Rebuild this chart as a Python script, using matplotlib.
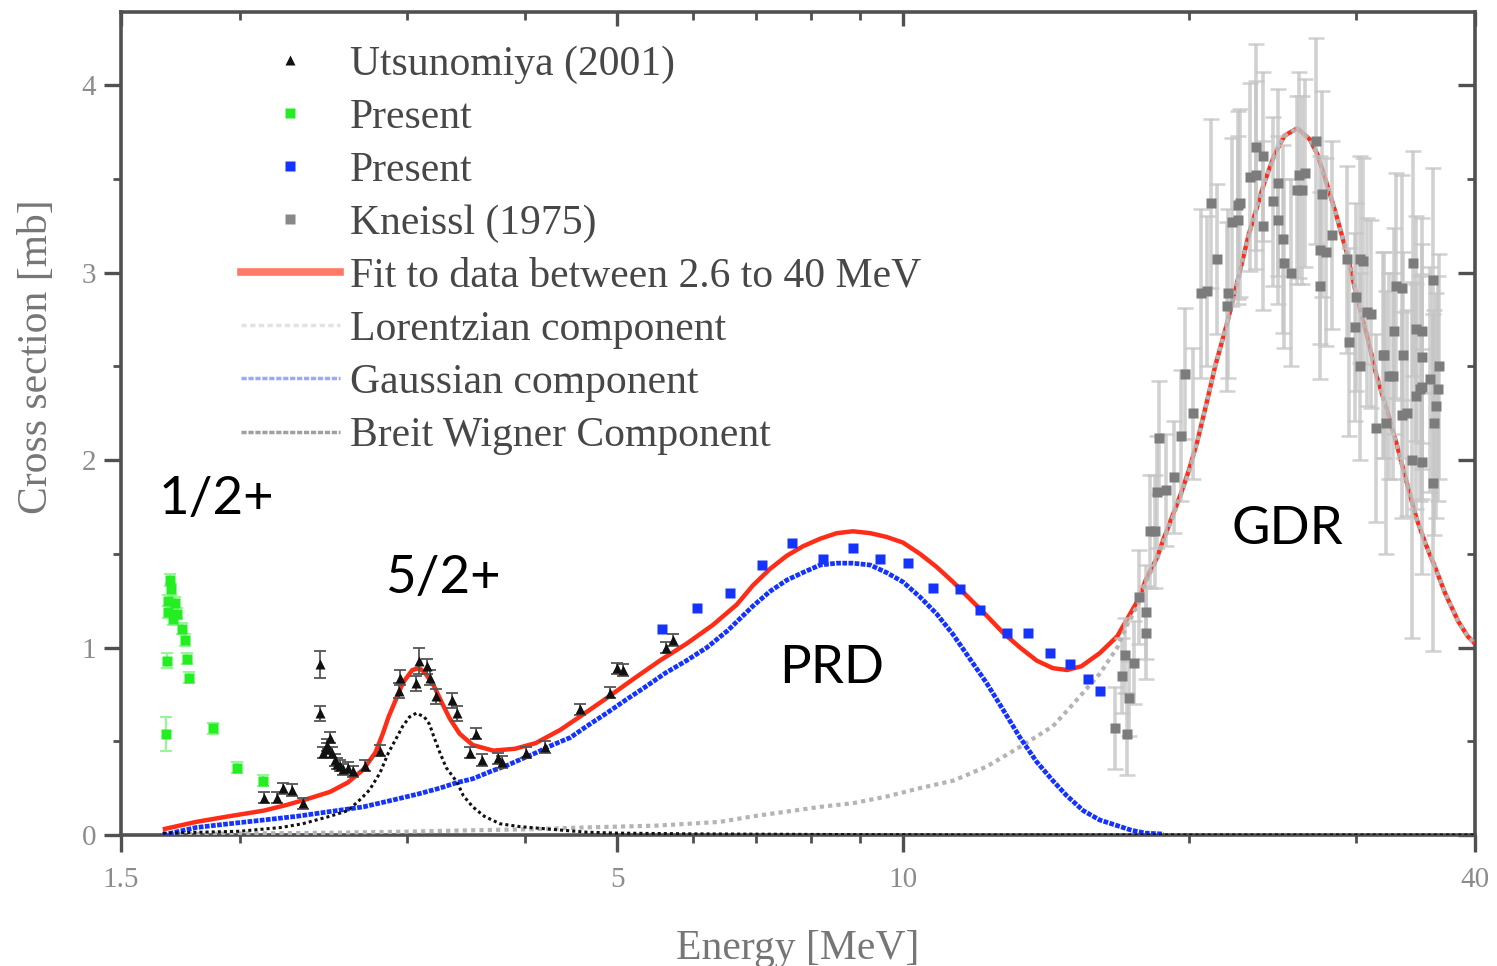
import matplotlib
matplotlib.use('Agg')
import matplotlib.pyplot as plt
from matplotlib.lines import Line2D
from matplotlib.ticker import FixedLocator, FixedFormatter, NullFormatter

# ---------------- data ----------------
# Utsunomiya (2001)  black triangles
utsu_E = [2.12, 2.19, 2.22, 2.27, 2.33, 2.43, 2.43, 2.45, 2.47, 2.47, 2.49, 2.50, 2.52,
          2.53, 2.55, 2.57, 2.60, 2.63, 2.71, 2.81, 2.94, 2.95, 3.07, 3.09, 3.15, 3.17,
          3.22, 3.35, 3.39, 3.50, 3.55, 3.60, 3.74, 3.78, 4.01, 4.19, 4.57, 4.91, 5.00,
          5.07, 5.62, 5.72]
utsu_y = [0.20, 0.20, 0.25, 0.24, 0.17, 0.91, 0.65, 0.44, 0.48, 0.46, 0.52, 0.44, 0.40,
          0.38, 0.37, 0.35, 0.36, 0.34, 0.37, 0.45, 0.77, 0.84, 0.81, 0.93, 0.90, 0.84,
          0.74, 0.72, 0.65, 0.44, 0.54, 0.40, 0.41, 0.39, 0.44, 0.47, 0.67, 0.76, 0.89,
          0.88, 1.00, 1.04]
utsu_err = [0.03, 0.03, 0.03, 0.03, 0.03, 0.07, 0.04, 0.03, 0.03, 0.03, 0.03, 0.03, 0.03,
            0.03, 0.03, 0.03, 0.03, 0.03, 0.03, 0.03, 0.04, 0.04, 0.04, 0.07, 0.04, 0.04,
            0.04, 0.04, 0.04, 0.03, 0.03, 0.03, 0.03, 0.03, 0.03, 0.03, 0.03, 0.03, 0.03,
            0.03, 0.03, 0.03]

# Present (green)
green_E = [1.672, 1.676, 1.680, 1.683, 1.689, 1.693, 1.700, 1.710, 1.720, 1.740, 1.750,
           1.759, 1.769, 1.873, 1.987, 2.117]
green_y = [0.54, 0.93, 1.25, 1.19, 1.36, 1.31, 1.15, 1.24, 1.18, 1.10, 1.04,
           0.94, 0.84, 0.57, 0.36, 0.29]
green_err = [0.09, 0.04, 0.03, 0.03, 0.03, 0.03, 0.03, 0.03, 0.03, 0.03, 0.03,
             0.03, 0.03, 0.03, 0.03, 0.03]

# Present (blue)
blue_E = [5.57, 6.06, 6.57, 7.09, 7.63, 8.23, 8.85, 9.45, 10.12, 10.75, 11.47, 12.04,
          12.85, 13.53, 14.27, 14.98, 15.65, 16.11]
blue_y = [1.10, 1.21, 1.29, 1.44, 1.56, 1.47, 1.53, 1.47, 1.45, 1.32, 1.31, 1.20,
          1.08, 1.08, 0.97, 0.91, 0.83, 0.77]

# Kneissl (1975)
kn_E = [16.7, 17.0, 17.1, 17.2, 17.3, 17.5, 17.7, 18.0, 18.0, 18.2, 18.4, 18.5, 18.6,
        18.9, 19.3, 19.6, 19.8, 20.2, 20.6, 20.9, 21.1, 21.4, 21.9, 22.0, 22.2, 22.5,
        22.5, 22.6, 23.2, 23.5, 23.5, 23.9, 23.9, 24.5, 24.8, 24.8, 25.1, 25.2, 25.6,
        26.0, 26.1, 26.3, 26.5, 27.2, 27.5, 27.5, 27.6, 27.9, 28.3, 29.3, 29.5, 29.9,
        30.0, 30.3, 30.3, 30.5, 30.8, 31.1, 31.5, 32.0, 32.1, 32.2, 32.5, 32.8, 32.9,
        33.0, 33.5, 33.5, 33.6, 33.9, 34.3, 34.4, 34.7, 34.7, 35.0, 35.2, 35.2, 35.2,
        35.2, 35.9, 36.1, 36.1, 36.2, 36.4, 36.6, 36.7]
kn_y = [0.57, 0.85, 0.96, 0.54, 0.73, 0.92, 1.27, 1.19, 1.08, 1.62, 1.62, 1.83, 2.12,
        1.84, 1.91, 2.13, 2.46, 2.25, 2.89, 2.90, 3.37, 3.07, 2.82, 2.89, 3.27, 3.28,
        3.36, 3.37, 3.51, 3.67, 3.52, 3.62, 3.25, 3.38, 3.28, 3.48, 3.18, 3.05, 3.00,
        3.44, 3.52, 3.44, 3.53, 3.70, 2.93, 3.12, 3.42, 3.11, 3.20, 3.07, 2.63, 2.71,
        2.87, 2.50, 3.07, 3.06, 2.79, 2.78, 2.17, 2.56, 2.56, 2.20, 2.45, 2.45, 2.69,
        2.93, 2.92, 2.24, 2.56, 2.25, 2.00, 3.05, 2.70, 2.34, 2.38, 2.55, 2.69, 1.99,
        2.39, 2.43, 1.88, 2.96, 2.20, 2.29, 2.38, 2.50]
kn_err = [0.22, 0.20, 0.20, 0.22, 0.20, 0.22, 0.25, 0.25, 0.25, 0.30, 0.30, 0.30, 0.30,
          0.30, 0.30, 0.35, 0.35, 0.35, 0.45, 0.40, 0.45, 0.40, 0.45, 0.45, 0.45, 0.45,
          0.50, 0.50, 0.50, 0.55, 0.50, 0.45, 0.45, 0.45, 0.45, 0.50, 0.50, 0.45, 0.50,
          0.50, 0.55, 0.50, 0.50, 0.55, 0.50, 0.50, 0.55, 0.50, 0.50, 0.50, 0.50, 0.50,
          0.50, 0.50, 0.55, 0.55, 0.50, 0.50, 0.50, 0.55, 0.55, 0.70, 0.55, 0.55, 0.55,
          0.60, 0.60, 0.55, 0.55, 0.55, 0.95, 0.60, 0.60, 0.60, 0.60, 0.60, 0.60, 0.60,
          0.60, 0.60, 0.90, 0.60, 0.60, 0.60, 0.60, 0.60]

# Fit to data between 2.6 to 40 MeV
fit_E = [1.66, 1.80, 1.95, 2.12, 2.24, 2.35, 2.49, 2.60, 2.70, 2.78, 2.83, 2.87, 2.92,
         2.97, 3.04, 3.09, 3.13, 3.20, 3.27, 3.33, 3.41, 3.52, 3.70, 3.90, 4.10, 4.35,
         4.56, 4.87, 5.19, 5.54, 5.91, 6.30, 6.68, 6.94, 7.24, 7.54, 7.84, 8.17, 8.51,
         8.85, 9.23, 9.60, 9.99, 10.41, 10.84, 11.28, 11.75, 12.24, 12.73, 13.27, 13.82,
         14.37, 14.87, 15.4, 16.1, 16.8, 17.2, 17.7, 18.0, 18.5, 18.8, 19.2, 19.6, 20.0,
         20.4, 20.9, 21.3, 21.9, 22.6, 23.1, 24.0, 24.6, 25.2, 26.0, 26.8, 27.3, 27.9,
         28.6, 29.4, 30.0, 30.8, 31.5, 32.3, 33.1, 33.9, 34.7, 35.5, 36.3, 37.2, 38.4,
         39.3, 40.0]
fit_y = [0.03, 0.07, 0.10, 0.13, 0.16, 0.19, 0.23, 0.28, 0.35, 0.44, 0.54, 0.63, 0.72,
         0.81, 0.88, 0.89, 0.87, 0.80, 0.70, 0.62, 0.54, 0.48, 0.45, 0.46, 0.49, 0.56,
         0.63, 0.73, 0.83, 0.93, 1.02, 1.12, 1.23, 1.33, 1.42, 1.49, 1.54, 1.58, 1.61,
         1.62, 1.61, 1.59, 1.56, 1.50, 1.43, 1.35, 1.26, 1.17, 1.08, 1.00, 0.93,
         0.89, 0.88, 0.90, 0.97, 1.06, 1.15, 1.26, 1.36, 1.48, 1.58, 1.70, 1.82, 1.95,
         2.10, 2.32, 2.50, 2.72, 3.00, 3.20, 3.48, 3.63, 3.73, 3.77, 3.71, 3.63, 3.48,
         3.30, 3.08, 2.88, 2.66, 2.45, 2.27, 2.08, 1.88, 1.69, 1.55, 1.43, 1.29, 1.14,
         1.06, 1.02]

# Lorentzian component
lor_E = [1.66, 2.0, 2.5, 3.0, 3.5, 4.0, 4.6, 5.5, 6.41, 6.95, 7.54, 8.17, 8.86, 9.60,
         10.41, 11.29, 12.24, 13.27, 14.37, 14.98, 15.47, 16.1, 16.8, 17.2, 17.7, 18.0,
         18.5, 18.8, 19.2, 19.6, 20.0, 20.4, 20.9, 21.3, 21.9, 22.6, 23.1, 24.0, 24.6,
         25.2, 26.0, 26.8, 27.3, 27.9, 28.6, 29.4, 30.0, 30.8, 31.5, 32.3, 33.1, 33.9,
         34.7, 35.5, 36.3, 37.2, 38.4, 39.3, 40.0]
lor_y = [0.005, 0.008, 0.012, 0.018, 0.025, 0.03, 0.04, 0.05, 0.07, 0.10, 0.125, 0.15,
         0.17, 0.205, 0.25, 0.29, 0.365, 0.47, 0.58, 0.68, 0.76, 0.86, 1.00, 1.12, 1.24,
         1.35, 1.47, 1.57, 1.69, 1.81, 1.94, 2.10, 2.32, 2.50, 2.72, 3.00, 3.20, 3.48,
         3.63, 3.73, 3.77, 3.71, 3.63, 3.48, 3.30, 3.08, 2.88, 2.66, 2.45, 2.27, 2.08,
         1.88, 1.69, 1.55, 1.43, 1.29, 1.14, 1.06, 1.02]

# Gaussian component
gau_E = [1.66, 1.80, 1.95, 2.12, 2.30, 2.49, 2.70, 2.92, 3.09, 3.25, 3.39, 3.52, 3.68,
         3.82, 3.94, 4.11, 4.27, 4.46, 4.64, 4.87, 5.10, 5.35, 5.62, 5.91, 6.21, 6.53,
         6.94, 7.24, 7.54, 7.84, 8.17, 8.51, 8.85, 9.23, 9.60, 9.99, 10.41, 10.84, 11.28,
         11.75, 12.24, 12.73, 13.27, 13.82, 14.37, 14.86, 15.47, 16.1, 16.8, 17.4, 18.0,
         18.8]
gau_y = [0.00, 0.04, 0.06, 0.08, 0.10, 0.125, 0.15, 0.19, 0.22, 0.25, 0.28, 0.30, 0.34,
         0.37, 0.40, 0.44, 0.48, 0.52, 0.58, 0.65, 0.72, 0.79, 0.865, 0.93, 1.00, 1.09,
         1.22, 1.30, 1.36, 1.40, 1.44, 1.45, 1.45, 1.44, 1.40, 1.35, 1.27, 1.18, 1.07,
         0.94, 0.81, 0.67, 0.52, 0.39, 0.29, 0.21, 0.13, 0.08, 0.05, 0.025, 0.01, 0.005]

# Breit Wigner component
bw_E = [1.66, 2.00, 2.21, 2.33, 2.49, 2.60, 2.68, 2.74, 2.81, 2.87, 2.92, 2.97, 3.02,
        3.07, 3.13, 3.17, 3.20, 3.25, 3.30, 3.39, 3.44, 3.52, 3.62, 3.76, 3.94, 4.27,
        4.64, 5.0, 6.0, 8.0, 12.0, 20.0, 40.0]
bw_y = [0.01, 0.02, 0.04, 0.06, 0.10, 0.13, 0.19, 0.24, 0.33, 0.44, 0.51, 0.58, 0.63,
        0.65, 0.63, 0.59, 0.53, 0.44, 0.36, 0.28, 0.21, 0.15, 0.10, 0.06, 0.045, 0.03,
        0.015, 0.01, 0.006, 0.003, 0.0, 0.0, 0.0]

x_ticks = [1.5, 5, 10, 40]
x_ticklabels = ['1.5', '5', '10', '40']
x_minor = [2, 3, 4, 6, 7, 8, 9, 20, 30]
y_ticks = [0, 1, 2, 3, 4]
y_ticklabels = ['0', '1', '2', '3', '4']
y_minor = [0.5, 1.5, 2.5, 3.5]

labels = ['Utsunomiya (2001)', 'Present', 'Present', 'Kneissl (1975)',
          'Fit to data between 2.6 to 40 MeV', 'Lorentzian component',
          'Gaussian component', 'Breit Wigner Component']

annotations = [('1/2+', 1.89, 1.79), ('5/2+', 3.27, 1.37), ('PRD', 8.40, 0.89),
               ('GDR', 25.4, 1.63)]

# ---------------- figure ----------------
W, H = 1497, 966
fig = plt.figure(figsize=(W / 100, H / 100), dpi=100)
ax = fig.add_axes([121 / W, 1 - 835 / H, (1475 - 121) / W, (835 - 12) / H])
ax.set_xscale('log')
ax.set_xlim(1.5, 40)
ax.set_ylim(0, 4.39)

serif = ['Liberation Serif', 'DejaVu Serif']
spine_c = '#505050'

RED = '#ff2d18'
BLUE = '#1433ff'
GREEN = '#22ee22'
GRAY_L = '#b4b4b4'

# lines
ax.plot(fit_E, fit_y, color=RED, lw=3.2, zorder=3, solid_capstyle='butt')
ax.errorbar(kn_E, kn_y, yerr=kn_err, fmt='none', ecolor='#c6c6c6', elinewidth=2.6,
            capsize=6, capthick=1.8, alpha=0.8, zorder=3.5)
ax.plot(lor_E, lor_y, color=GRAY_L, lw=3, ls=(0, (1, 1)), zorder=4)
ax.plot(gau_E, gau_y, color=BLUE, lw=3.4, ls=(0, (1, 0.3)), zorder=4)
ax.plot(bw_E, bw_y, color='#111111', lw=2.2, ls=(0, (1, 1)), zorder=4)

# data markers
ax.plot(kn_E, kn_y, ls='none', marker='s', ms=7, color='#7c7c7c', mec='none', zorder=5)
ax.errorbar(utsu_E, utsu_y, yerr=utsu_err, fmt='none', ecolor='#555555', elinewidth=1.3,
            capsize=4, capthick=1.3, zorder=5)
ax.plot(utsu_E, utsu_y, ls='none', marker='^', ms=6.5, color='#111111', mec='none', zorder=6)
ax.errorbar(green_E, green_y, yerr=green_err, fmt='none', ecolor='#99f599', elinewidth=1.6,
            capsize=4, capthick=1.5, zorder=5)
ax.plot(green_E, green_y, ls='none', marker='s', ms=7, color=GREEN, mec='none', zorder=6)
ax.plot(blue_E, blue_y, ls='none', marker='s', ms=7, color=BLUE, mec='none', zorder=6)

# annotations
for txt, xe, yv in annotations:
    ax.text(xe, yv, txt, ha='center', va='center', fontsize=38,
            family=['Lato', 'DejaVu Sans'], color='black', zorder=7)

# ticks
ax.xaxis.set_major_locator(FixedLocator(x_ticks))
ax.xaxis.set_major_formatter(FixedFormatter(x_ticklabels))
ax.xaxis.set_minor_locator(FixedLocator(x_minor))
ax.xaxis.set_minor_formatter(NullFormatter())
ax.yaxis.set_major_locator(FixedLocator(y_ticks))
ax.yaxis.set_major_formatter(FixedFormatter(y_ticklabels))
ax.yaxis.set_minor_locator(FixedLocator(y_minor))
ax.tick_params(which='major', direction='out', length=12, width=2.4, color=spine_c,
               labelsize=21, labelcolor='#8c8c8c', pad=6)
ax.tick_params(axis='x', which='major', pad=11)
ax.tick_params(which='minor', direction='out', length=6, width=2.0, color=spine_c)
for lab in ax.get_xticklabels() + ax.get_yticklabels():
    lab.set_family(serif)

for s in ax.spines.values():
    s.set_color(spine_c)
    s.set_linewidth(2.6)

secx = ax.secondary_xaxis('top')
secx.xaxis.set_major_locator(FixedLocator(x_ticks))
secx.xaxis.set_minor_locator(FixedLocator(x_minor))
secx.xaxis.set_major_formatter(NullFormatter())
secx.xaxis.set_minor_formatter(NullFormatter())
secx.tick_params(which='major', direction='in', length=10, width=2.4, color=spine_c)
secx.tick_params(which='minor', direction='in', length=6, width=2.0, color=spine_c)
secx.spines['top'].set_visible(False)

secy = ax.secondary_yaxis('right')
secy.yaxis.set_major_locator(FixedLocator(y_ticks))
secy.yaxis.set_minor_locator(FixedLocator(y_minor))
secy.yaxis.set_major_formatter(NullFormatter())
secy.yaxis.set_minor_formatter(NullFormatter())
secy.tick_params(which='major', direction='in', length=12, width=2.4, color=spine_c)
secy.tick_params(which='minor', direction='in', length=6, width=2.0, color=spine_c)
secy.spines['right'].set_visible(False)

ax.set_xlabel('Energy [MeV]', fontsize=30, family=serif, color='#767676', labelpad=26)
ax.set_ylabel('Cross section [mb]', fontsize=30, family=serif, color='#767676')
ax.yaxis.set_label_coords(-0.048, (835 - 357) / 823)

# legend
handles = [
    Line2D([], [], ls='none', marker='^', ms=7, color='#111111', mec='none'),
    Line2D([], [], ls='none', marker='s', ms=7, color=GREEN, mec='none'),
    Line2D([], [], ls='none', marker='s', ms=7, color=BLUE, mec='none'),
    Line2D([], [], ls='none', marker='s', ms=7, color='#888888', mec='none'),
    Line2D([], [], color='#ff7a66', lw=5.5),
    Line2D([], [], color='#e2e2e2', lw=2.5, ls=(0, (1.5, 1))),
    Line2D([], [], color='#9aa8ff', lw=2.5, ls=(0, (1.5, 0.5))),
    Line2D([], [], color='#a0a0a0', lw=2.5, ls=(0, (1.5, 0.5))),
]
leg = fig.legend(handles, labels, loc='upper left',
                 bbox_to_anchor=(241 / W, 1 - 45 / H), frameon=False,
                 prop={'family': serif, 'size': 30}, handlelength=2.37,
                 handletextpad=0.24, labelspacing=0.35, borderpad=0, borderaxespad=0)
for t in leg.get_texts():
    t.set_color('#474747')

fig.savefig('out.png', dpi=100)
